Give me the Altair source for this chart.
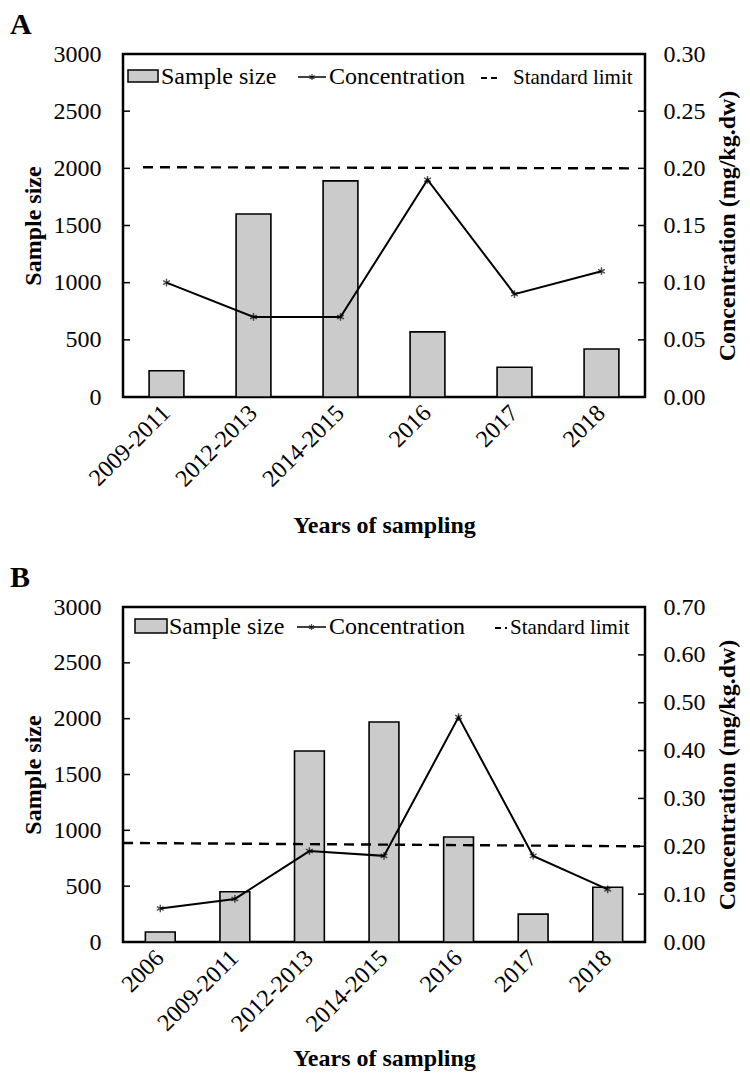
import altair as alt
import pandas as pd

FONT = "Liberation Serif"

# ---- Panel A data ----
cats_a = ["2009-2011", "2012-2013", "2014-2015", "2016", "2017", "2018"]
size_a = [230, 1600, 1890, 570, 260, 420]
conc_a = [0.10, 0.07, 0.07, 0.19, 0.09, 0.11]
limit_a = [0.201, 0.200]  # standard limit line (left end, right end)

# ---- Panel B data ----
cats_b = ["2006", "2009-2011", "2012-2013", "2014-2015", "2016", "2017", "2018"]
size_b = [90, 450, 1710, 1970, 940, 250, 490]
conc_b = [0.07, 0.09, 0.19, 0.18, 0.47, 0.18, 0.11]
limit_b = [0.207, 0.200]

left_ticks = [0, 500, 1000, 1500, 2000, 2500, 3000]
right_ticks_a = [0.0, 0.05, 0.10, 0.15, 0.20, 0.25, 0.30]
right_ticks_b = [0.0, 0.10, 0.20, 0.30, 0.40, 0.50, 0.60, 0.70]

STAR = "M0,-1L0,1M-0.87,-0.5L0.87,0.5M-0.87,0.5L0.87,-0.5"
BAR_FILL = "#cbcbcb"
W = 522


def panel(label, cats, sizes, concs, limit, rticks, rmax, h, leg, lim_x, xtp):
    df = pd.DataFrame({"year": cats, "size": sizes, "conc": concs})
    base = alt.Chart(df)
    one = alt.Chart(pd.DataFrame({"k": [0]}))
    lscale = alt.Scale(domain=[0, 3000], nice=False, zero=True)
    rscale = alt.Scale(domain=[0, rmax], nice=False, zero=True)
    laxis = alt.Axis(title="Sample size", values=left_ticks, orient="left", format="d",
                     ticks=False, tickSize=0, domain=False, grid=False,
                     labelPadding=22, titlePadding=8)
    raxis = alt.Axis(title="Concentration (mg/kg.dw)", values=rticks, format=".2f",
                     orient="right", ticks=False, tickSize=0, domain=False,
                     grid=False, labelPadding=18, titlePadding=10, titleAngle=270,
                     titleBaseline="top")
    x = alt.X(
        "year:N", sort=cats,
        scale=alt.Scale(paddingInner=0.6, paddingOuter=0.3),
        axis=alt.Axis(title="Years of sampling", labelAngle=-45, ticks=False, tickSize=0,
                      domain=False, labelPadding=12, titlePadding=xtp,
                      labelAlign="right", labelBaseline="middle"),
    )

    bars = base.mark_bar(fill=BAR_FILL, stroke="black", strokeWidth=1.6).encode(
        x=x, y=alt.Y("size:Q", scale=lscale, axis=laxis))
    lticks = alt.Chart(pd.DataFrame({"v": left_ticks})).mark_rule(
        color="black", strokeWidth=1.5).encode(
        y=alt.Y("v:Q", scale=lscale, axis=laxis),
        x=alt.value(0), x2=alt.value(7),
    )

    # panel letter
    letter = one.mark_text(text=label, align="left", baseline="top", font=FONT,
                           fontSize=30, fontWeight="bold", color="black").encode(
        x=alt.value(-113), y=alt.value(-44))

    # legend (drawn inside the plot)
    sx0, sx1, sy0, sy1, tx, ty, lx0, lx1, ltx, dx0, dx1, dtx = leg
    swatch = one.mark_rect(fill=BAR_FILL, stroke="black", strokeWidth=1.5).encode(
        x=alt.value(sx0), x2=alt.value(sx1), y=alt.value(sy0), y2=alt.value(sy1))
    t1 = one.mark_text(text="Sample size", align="left", baseline="middle",
                       font=FONT, fontSize=24, color="black").encode(
        x=alt.value(tx), y=alt.value(ty))
    lsym = one.mark_rule(color="black", strokeWidth=1.5).encode(
        x=alt.value(lx0), x2=alt.value(lx1), y=alt.value(ty))
    lstar = one.mark_point(shape=STAR, size=36, filled=False, color="black",
                           strokeWidth=1.2).encode(
        x=alt.value((lx0 + lx1) / 2), y=alt.value(ty))
    t2 = one.mark_text(text="Concentration", align="left", baseline="middle",
                       font=FONT, fontSize=24, color="black").encode(
        x=alt.value(ltx), y=alt.value(ty))
    dsym = one.mark_rule(color="black", strokeWidth=2, strokeDash=[6, 4]).encode(
        x=alt.value(dx0), x2=alt.value(dx1), y=alt.value(ty + 1))
    t3 = one.mark_text(text="Standard limit", align="left", baseline="middle",
                       font=FONT, fontSize=21, color="black").encode(
        x=alt.value(dtx), y=alt.value(ty + 1))

    left = alt.layer(bars, lticks, letter, swatch, t1, lsym, lstar, t2, dsym, t3)

    line = base.mark_line(color="black", strokeWidth=2).encode(
        x=x, y=alt.Y("conc:Q", scale=rscale, axis=raxis))
    pts = base.mark_point(shape=STAR, size=60, filled=False, color="black",
                          strokeWidth=1.4).encode(
        x=x, y=alt.Y("conc:Q", scale=rscale, axis=raxis))
    lim = alt.Chart(pd.DataFrame({"s": [limit[0]], "e": [limit[1]]})).mark_rule(
        color="black", strokeWidth=2.4, strokeDash=[10, 7]).encode(
        y=alt.Y("s:Q", scale=rscale, axis=raxis), y2="e:Q",
        x=alt.value(lim_x[0]), x2=alt.value(W - lim_x[1]),
    )
    rt = alt.Chart(pd.DataFrame({"v": rticks})).mark_rule(
        color="black", strokeWidth=1.5).encode(
        y=alt.Y("v:Q", scale=rscale, axis=raxis), x=alt.value(W - 7), x2=alt.value(W))
    right = alt.layer(lim, line, pts, rt)

    return alt.layer(left, right).resolve_scale(y="independent").properties(
        width=W, height=h)


pA = panel("A", cats_a, size_a, conc_a, limit_a, right_ticks_a, 0.30, 343,
           (5, 35, 16, 28, 38, 23, 175, 203, 206, 358, 376, 390),
           (20, 14), 22)
pB = panel("B", cats_b, size_b, conc_b, limit_b, right_ticks_b, 0.70, 335,
           (12, 44, 12, 26, 46, 20, 174, 203, 206, 372, 384, 387),
           (0, 5), 10)

chart = alt.vconcat(pA, pB, spacing=22).properties(
    padding={"left": 0, "top": 0, "right": 0, "bottom": 0},
    background="white",
).configure_view(
    stroke="black", strokeWidth=2.5
).configure_axis(
    labelFont=FONT, labelFontSize=24, labelColor="black",
    titleFont=FONT, titleFontSize=24, titleFontWeight="bold", titleColor="black",
)

chart.save("out.html", embed_options={"renderer": "svg", "actions": False})
